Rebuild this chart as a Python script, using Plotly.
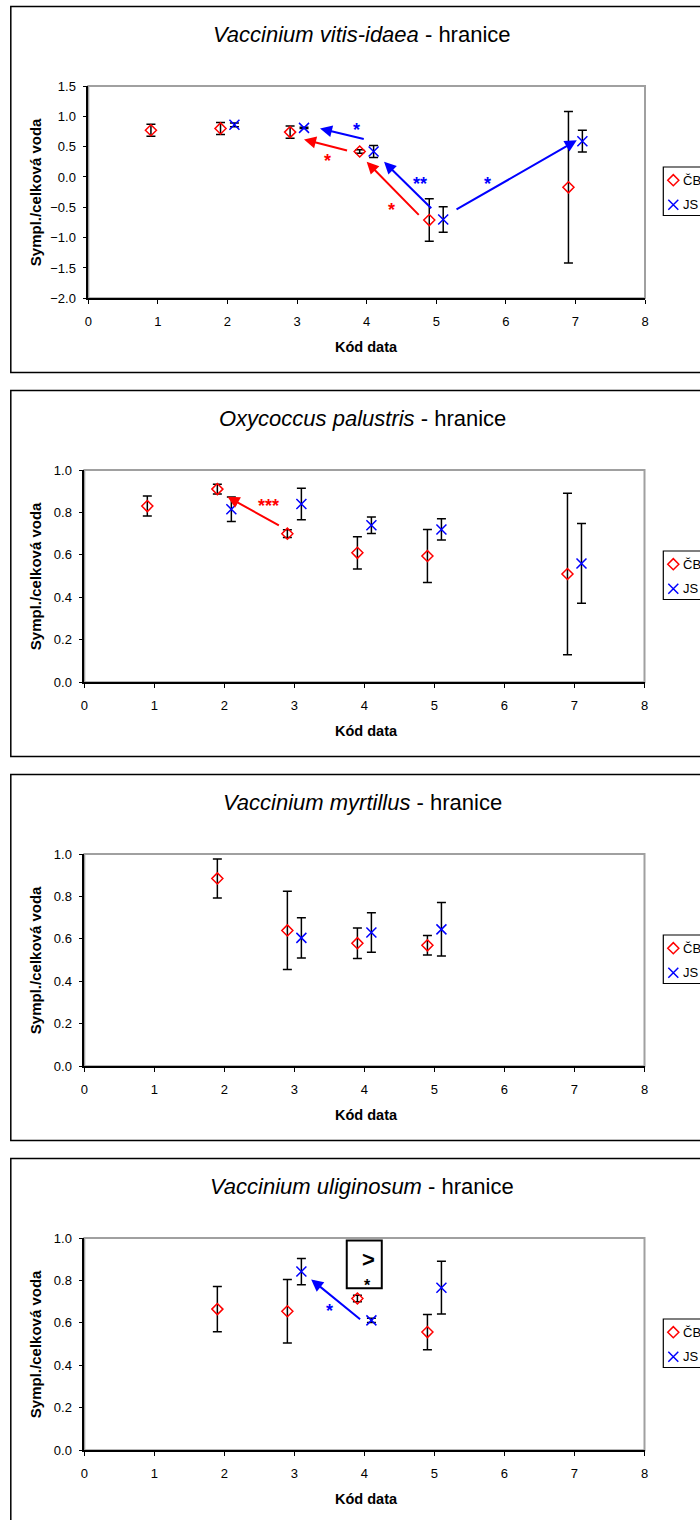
import plotly.graph_objects as go

W, H = 700, 1520

# ---------------- data ----------------
species = ["Vaccinium vitis-idaea", "Oxycoccus palustris",
           "Vaccinium myrtillus", "Vaccinium uliginosum"]
series_names = ["ČB", "JS"]

# Vaccinium vitis-idaea
cb_code_1 = [1, 2, 3, 4, 5, 7]
cb_mean_1 = [0.77, 0.80, 0.74, 0.42, -0.71, -0.17]
cb_err_1 = [0.10, 0.10, 0.10, 0.03, 0.35, 1.25]
js_code_1 = [2, 3, 4, 5, 7]
js_mean_1 = [0.86, 0.81, 0.42, -0.70, 0.59]
js_err_1 = [0.03, 0.01, 0.10, 0.21, 0.18]

# Oxycoccus palustris
cb_code_2 = [1, 2, 3, 4, 5, 7]
cb_mean_2 = [0.83, 0.91, 0.70, 0.61, 0.595, 0.51]
cb_err_2 = [0.047, 0.023, 0.018, 0.076, 0.125, 0.38]
js_code_2 = [2, 3, 4, 5, 7]
js_mean_2 = [0.815, 0.84, 0.74, 0.72, 0.56]
js_err_2 = [0.058, 0.074, 0.039, 0.05, 0.188]

# Vaccinium myrtillus
cb_code_3 = [2, 3, 4, 5]
cb_mean_3 = [0.885, 0.64, 0.58, 0.57]
cb_err_3 = [0.092, 0.184, 0.072, 0.046]
js_code_3 = [3, 4, 5]
js_mean_3 = [0.605, 0.63, 0.645]
js_err_3 = [0.095, 0.093, 0.126]

# Vaccinium uliginosum
cb_code_4 = [2, 3, 4, 5]
cb_mean_4 = [0.665, 0.655, 0.715, 0.557]
cb_err_4 = [0.107, 0.15, 0.015, 0.083]
js_code_4 = [3, 4, 5]
js_mean_4 = [0.842, 0.612, 0.766]
js_err_4 = [0.062, 0.01, 0.124]

x_ticks = [0, 1, 2, 3, 4, 5, 6, 7, 8]

# ---------------- styling / geometry ----------------
RED = "#ff0000"
BLUE = "#0000ff"
FONT = "Liberation Sans, Arial, sans-serif"
STEP = 384           # vertical distance between stacked panels (px)
OFFSET = 0.1         # horizontal shift of the two series around each code

panels = [
    dict(cb=(cb_code_1, cb_mean_1, cb_err_1), js=(js_code_1, js_mean_1, js_err_1),
         yrange=[-2, 1.5], dtick=0.5, left=88.3, right=645.0),
    dict(cb=(cb_code_2, cb_mean_2, cb_err_2), js=(js_code_2, js_mean_2, js_err_2),
         yrange=[0, 1], dtick=0.2, left=84.3, right=644.5),
    dict(cb=(cb_code_3, cb_mean_3, cb_err_3), js=(js_code_3, js_mean_3, js_err_3),
         yrange=[0, 1], dtick=0.2, left=84.3, right=644.5),
    dict(cb=(cb_code_4, cb_mean_4, cb_err_4), js=(js_code_4, js_mean_4, js_err_4),
         yrange=[0, 1], dtick=0.2, left=84.3, right=644.5),
]

# significance arrows: (panel, x_from, y_from, x_to, y_to, colour)
arrows = [
    (0, 3.98, 0.62, 3.33, 0.80, BLUE),
    (0, 3.74, 0.43, 3.10, 0.62, RED),
    (0, 4.77, -0.65, 4.00, 0.25, RED),
    (0, 4.95, -0.54, 4.25, 0.25, BLUE),
    (0, 5.27, -0.55, 7.02, 0.605, BLUE),
    (1, 2.80, 0.735, 2.045, 0.874, RED),
    (3, 3.96, 0.612, 3.24, 0.805, BLUE),
]
# significance marks: (panel, x, y, text, colour)
marks = [
    (0, 3.86, 0.85, "*", BLUE),
    (0, 3.44, 0.34, "*", RED),
    (0, 4.35, -0.46, "*", RED),
    (0, 4.77, -0.04, "**", BLUE),
    (0, 5.74, -0.04, "*", BLUE),
    (1, 2.63, 0.855, "***", RED),
    (3, 3.50, 0.68, "*", BLUE),
]


def pxx(p):
    return p / W


def pxy(p):
    return 1 - p / H


fig = go.Figure()
annotations = []
shapes = []
layout = {}

for i, p in enumerate(panels):
    k = i + 1
    sfx = "" if k == 1 else str(k)
    xa, ya = "x" + sfx, "y" + sfx
    top = 86.0 + STEP * i
    bottom = 298.3 + STEP * i

    cb_code, cb_mean, cb_err = p["cb"]
    js_code, js_mean, js_err = p["js"]

    fig.add_trace(go.Scatter(
        x=[c - OFFSET for c in cb_code], y=cb_mean, mode="markers",
        name=series_names[0], showlegend=False, xaxis=xa, yaxis=ya,
        error_y=dict(type="data", array=cb_err, color="black",
                     thickness=1.5, width=4.5),
        marker=dict(symbol="diamond-open", size=8.5, color=RED,
                    line=dict(width=1.5, color=RED)),
    ))
    fig.add_trace(go.Scatter(
        x=[c + OFFSET for c in js_code], y=js_mean, mode="markers",
        name=series_names[1], showlegend=False, xaxis=xa, yaxis=ya,
        error_y=dict(type="data", array=js_err, color="black",
                     thickness=1.5, width=4.5),
        marker=dict(symbol="x-thin-open", size=10, color=BLUE,
                    line=dict(width=1.5, color=BLUE)),
    ))

    layout["xaxis" + sfx] = dict(
        domain=[pxx(p["left"]), pxx(p["right"])], anchor=ya,
        range=[0, 8], tickvals=x_ticks, showgrid=False, zeroline=False,
        showline=True, linecolor="black", linewidth=1.6,
        ticks="outside", ticklen=4, tickcolor="black", tickwidth=1,
        tickfont=dict(family=FONT, size=13, color="black"),
        ticklabelstandoff=6, fixedrange=True, automargin=False,
    )
    layout["yaxis" + sfx] = dict(
        domain=[pxy(bottom), pxy(top)], anchor=xa,
        range=p["yrange"], dtick=p["dtick"], tickformat=".1f",
        showgrid=False, zeroline=False,
        showline=True, linecolor="black", linewidth=1.6,
        ticks="outside", ticklen=4, tickcolor="black", tickwidth=1,
        tickfont=dict(family=FONT, size=13, color="black"),
        ticklabelstandoff=4, fixedrange=True, automargin=False,
    )

    # plot-area frame (grey) and the outer chart frame (black)
    shapes.append(dict(type="rect", xref=xa + " domain", yref=ya + " domain",
                       x0=0, x1=1, y0=0, y1=1, layer="below",
                       line=dict(color="#a0a0a0", width=2)))
    shapes.append(dict(type="rect", xref="paper", yref="paper",
                       x0=pxx(10.8), x1=pxx(720),
                       y0=pxy(372.5 + STEP * i), y1=pxy(6.5 + STEP * i),
                       line=dict(color="black", width=1.5)))

    # titles
    annotations.append(dict(
        xref="paper", yref="paper", x=pxx(362), y=pxy(34 + STEP * i),
        text="<i>%s</i> - hranice" % species[i], showarrow=False,
        font=dict(family=FONT, size=22, color="black"),
        xanchor="center", yanchor="middle"))
    annotations.append(dict(
        xref="paper", yref="paper", x=pxx(366), y=pxy(347 + STEP * i),
        text="<b>Kód data</b>", showarrow=False,
        font=dict(family=FONT, size=14.5, color="black"),
        xanchor="center", yanchor="middle"))
    annotations.append(dict(
        xref="paper", yref="paper", x=pxx(35), y=pxy((top + bottom) / 2),
        text="<b>Sympl./celková voda</b>", showarrow=False, textangle=-90,
        font=dict(family=FONT, size=15, color="black"),
        xanchor="center", yanchor="middle"))

    # legend box, swatches and labels
    lg_top = top + 81
    shapes.append(dict(type="rect", xref="paper", yref="paper",
                       x0=pxx(663.3), x1=pxx(720),
                       y0=pxy(lg_top + 48.5), y1=pxy(lg_top),
                       line=dict(color="black", width=1.2),
                       fillcolor="white", layer="below"))
    for j, (nm, dy) in enumerate(zip(series_names, [13.2, 37.8])):
        annotations.append(dict(
            xref="paper", yref="paper", x=pxx(680.5), y=pxy(lg_top + dy),
            text=nm, showarrow=False, xanchor="left", yanchor="middle",
            font=dict(family=FONT, size=13, color="black")))
    fig.add_trace(go.Scatter(
        x=[673.3], y=[lg_top + 13.2], mode="markers", xaxis="x5", yaxis="y5",
        showlegend=False, hoverinfo="skip",
        marker=dict(symbol="diamond-open", size=8.5, color=RED,
                    line=dict(width=1.5, color=RED))))
    fig.add_trace(go.Scatter(
        x=[673.3], y=[lg_top + 37.8], mode="markers", xaxis="x5", yaxis="y5",
        showlegend=False, hoverinfo="skip",
        marker=dict(symbol="x-thin-open", size=10, color=BLUE,
                    line=dict(width=1.5, color=BLUE))))

# significance arrows and stars
for (pi, x0, y0, x1, y1, col) in arrows:
    sfx = "" if pi == 0 else str(pi + 1)
    annotations.append(dict(
        xref="x" + sfx, yref="y" + sfx, axref="x" + sfx, ayref="y" + sfx,
        x=x1, y=y1, ax=x0, ay=y0, text="", showarrow=True,
        arrowhead=2, arrowsize=1.2, arrowwidth=2, arrowcolor=col, standoff=0))
for (pi, x, y, txt, col) in marks:
    sfx = "" if pi == 0 else str(pi + 1)
    annotations.append(dict(
        xref="x" + sfx, yref="y" + sfx, x=x, y=y, text="<b>%s</b>" % txt,
        showarrow=False, yshift=-5,
        font=dict(family=FONT, size=18, color=col)))

# boxed comparison note in the last panel
shapes.append(dict(type="rect", xref="x4", yref="y4",
                   x0=3.748, x1=4.248, y0=0.763, y1=0.988,
                   line=dict(color="black", width=2)))
annotations.append(dict(xref="x4", yref="y4", x=4.057, y=0.898, text="<b>></b>",
                        showarrow=False, font=dict(family=FONT, size=22, color="black")))
annotations.append(dict(xref="x4", yref="y4", x=4.05, y=0.80, text="<b>*</b>",
                        showarrow=False, yshift=-5,
                        font=dict(family=FONT, size=16, color="black")))

# pixel-space overlay axis used for the legend swatches
layout["xaxis5"] = dict(domain=[0, 1], anchor="y5", range=[0, W], visible=False,
                        fixedrange=True, automargin=False)
layout["yaxis5"] = dict(domain=[0, 1], anchor="x5", range=[H, 0], visible=False,
                        fixedrange=True, automargin=False)

fig.update_layout(
    width=W, height=H,
    margin=dict(l=0, r=0, t=0, b=0, pad=0, autoexpand=False),
    paper_bgcolor="white", plot_bgcolor="rgba(0,0,0,0)",
    showlegend=False, annotations=annotations, shapes=shapes,
    font=dict(family=FONT, color="black"),
    **layout,
)

fig.write_html("out.html")
